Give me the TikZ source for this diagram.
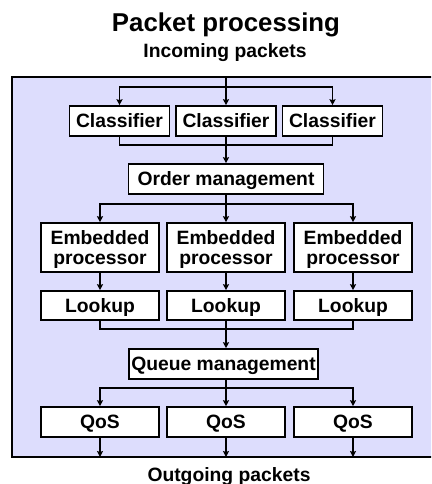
\documentclass[tikz,border=0pt]{standalone}
\usepackage{fontspec}
\setmainfont{Liberation Sans}
\usetikzlibrary{arrows.meta}
\definecolor{panel}{RGB}{221,221,253}
\begin{document}
\begin{tikzpicture}[x=1pt,y=-1pt,
  txt/.style={font=\bfseries\fontsize{19.3}{20}\selectfont, inner sep=0pt},
  box/.style={txt, draw, fill=white, line width=1.6pt, text height=13.7pt, text depth=0pt, minimum height=30pt},
  conn/.style={line width=1.3pt},
  arr/.style={conn, -{Stealth[length=6pt,width=6pt,inset=1pt]}},
]
\useasboundingbox (0,0) rectangle (431,484);
\begin{scope}
  \clip (0,0) rectangle (431,484);
  \draw[fill=panel, line width=1.6pt] (12,77) rectangle (445,457);
\end{scope}
\coordinate (top) at (226,77);
\coordinate (bot) at (0,457);

\node[font=\bfseries\fontsize{25.8}{30}\selectfont, inner sep=0pt, anchor=base] (title) at (226,32) {Packet processing};
\node[txt, anchor=base] (in) at (225,58) {Incoming packets};
\node[txt, anchor=base] (out) at (229,481) {Outgoing packets};

\node[box, minimum width=100pt] (c1) at (119.5,121) {Classifier};
\node[box, minimum width=100pt] (c2) at (226,121) {Classifier};
\node[box, minimum width=100pt] (c3) at (332.5,121) {Classifier};

\node[box, minimum width=195pt] (om) at (226,179) {Order management};

\foreach \i/\x in {1/100,2/226,3/353}{
  \node[box, minimum width=118pt, minimum height=49pt, align=center, text height=33.7pt, text depth=0pt] (e\i) at (\x,247.5) {Embedded\\processor};
  \node[box, minimum width=118pt, minimum height=29pt] (l\i) at (\x,305.5) {Lookup};
  \node[box, minimum width=118pt] (q\i) at (\x,422) {QoS};
}
\node[box, minimum width=189pt] (qm) at (223.5,364) {Queue management};

% incoming split
\coordinate (s1) at (226,87);
\draw[arr] (top) -- (c2.north);
\draw[arr] (s1) -| (c1.north);
\draw[arr] (s1) -| (c3.north);
% classifier merge
\coordinate (m1) at (226,145);
\draw[conn] (c1.south) |- (m1);
\draw[conn] (c3.south) |- (m1);
\draw[arr] (c2.south) -- (om.north);
% order split
\coordinate (s2) at (226,204);
\draw[arr] (om.south) -- (e2.north);
\draw[arr] (s2) -| (e1.north);
\draw[arr] (s2) -| (e3.north);
% embedded -> lookup
\foreach \i in {1,2,3}{\draw[arr] (e\i.south) -- (l\i.north);}
% lookup merge
\coordinate (m2) at (226,329);
\draw[conn] (l1.south) |- (m2);
\draw[conn] (l3.south) |- (m2);
\draw[arr] (l2.south) -- (l2.south |- qm.north);
% queue split
\coordinate (s3) at (226,388);
\draw[arr] (l2.south |- qm.south) -- (q2.north);
\draw[arr] (s3) -| (q1.north);
\draw[arr] (s3) -| (q3.north);
% outputs
\foreach \i in {1,2,3}{\draw[arr] (q\i.south) -- (q\i.south |- bot);}
\end{tikzpicture}
\end{document}
